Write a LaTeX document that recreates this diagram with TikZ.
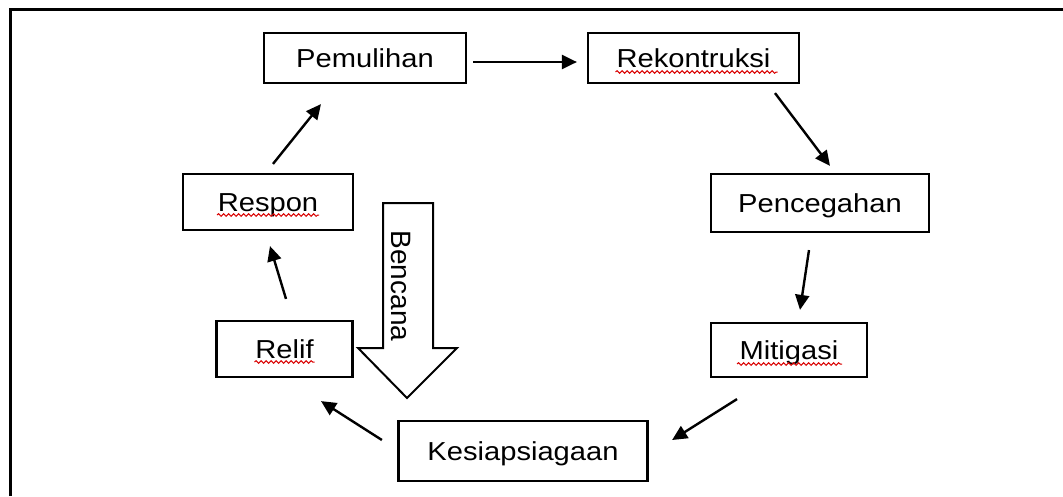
\documentclass[tikz,border=0pt]{standalone}
\usepackage{fontspec}
\setmainfont{Liberation Sans}
\newfontfamily\boxfont[FakeStretch=1.12]{Liberation Sans}
\usetikzlibrary{arrows.meta,decorations.pathmorphing}

\begin{document}
\begin{tikzpicture}[x=1pt,y=-1pt,
 box/.style={draw,line width=2.2pt,inner sep=0pt,font=\boxfont\fontsize{26}{30}\selectfont,text height=18pt,text depth=0pt},
 flow/.style={line width=2.4pt,-{Triangle[length=15pt,width=14pt]}},
 typo/.style={red!85!black,line width=1pt,decorate,decoration={snake,amplitude=1.3pt,segment length=5pt}},
 ]

 \useasboundingbox (0,0) rectangle (1063,496);
 \draw[line width=3pt] (10,496) -- (10,9) -- (1063,9);

 \node[box,minimum width=202pt,minimum height=50pt] (pem) at (365,58) {Pemulihan};
 \node[box,minimum width=211pt,minimum height=50pt] (rek) at (693.5,58) {Rekontruksi};
 \node[box,minimum width=170pt,minimum height=56pt] (res) at (268,202) {Respon};
 \node[box,minimum width=218pt,minimum height=58pt] (pen) at (820,203) {Pencegahan};
 \node[box,minimum width=136pt,minimum height=56pt] (rel) at (284.5,349) {Relif};
 \node[box,minimum width=156pt,minimum height=54pt] (mit) at (789,350) {Mitigasi};
 \node[box,minimum width=249pt,minimum height=60pt] (kes) at (523,451) {Kesiapsiagaan};

 \draw[typo] ([shift={(-78pt,-5pt)}]rek.base) -- ++(162,0);
 \draw[typo] ([shift={(-51pt,-4pt)}]res.base) -- ++(102,0);
 \draw[typo] ([shift={(-30pt,-4pt)}]rel.base) -- ++(60,0);
 \draw[typo] ([shift={(-52pt,-5pt)}]mit.base) -- ++(105,0);

 \draw[line width=2pt] (383,203) -- (433,203) -- (433,348) -- (457,348) -- (407,398) -- (358,348) -- (383,348) -- cycle;
 \node[rotate=-90,font=\fontsize{28}{32}\selectfont] (bencana) at (401,286) {Bencana};

 \draw[flow] ([shift={(6pt,-4pt)}]pem.east) -- ([shift={(-10pt,-4pt)}]rek.west);
 \draw[flow] ([shift={(81.5pt,-9pt)}]rek.south) -- ([shift={(10pt,7pt)}]pen.north);
 \draw[flow] ([shift={(-11pt,-17pt)}]pen.south) -- ([shift={(11pt,12pt)}]mit.north);
 \draw[flow] ([shift={(-52pt,-21pt)}]mit.south) -- ([shift={(23.5pt,11pt)}]kes.east);
 \draw[flow] ([shift={(-15.5pt,11pt)}]kes.west) -- ([shift={(36.5pt,-23pt)}]rel.south);
 \draw[flow] ([shift={(1.5pt,21pt)}]rel.north) -- ([shift={(2pt,-15pt)}]res.south);
 \draw[flow] ([shift={(5pt,9pt)}]res.north) -- ([shift={(-44pt,-20pt)}]pem.south);

\end{tikzpicture}
\end{document}
